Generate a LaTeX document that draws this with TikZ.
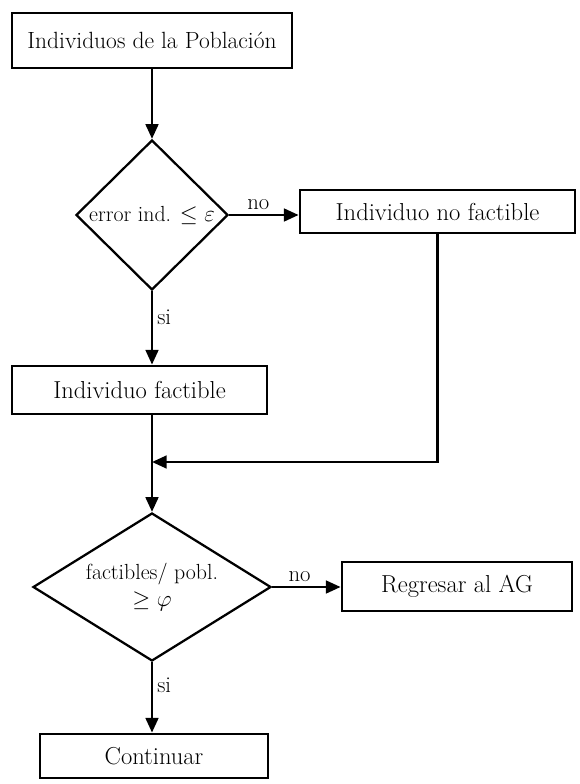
\documentclass[tikz,border=0pt]{standalone}
\usepackage{fontspec}
\usetikzlibrary{shapes.geometric,arrows.meta}
\begin{document}
\begin{tikzpicture}[x=0.75pt,y=-0.75pt,
  box/.style={draw,line width=2.1pt,inner sep=0pt,font=\fontsize{18.4}{21}\selectfont},
  decision/.style={draw,shape=diamond,line width=1.7pt,inner sep=0pt,align=center,
    font=\fontsize{16.4}{19}\selectfont},
  flow/.style={line width=1.9pt,-{Triangle[length=11pt,width=9.5pt]}},
  plain/.style={line width=1.9pt},
  lbl/.style={font=\fontsize{17}{18}\selectfont,inner sep=3pt}]
\useasboundingbox[fill=white] (0,0) rectangle (580,784);

% process boxes
\node[box,minimum width=210pt,minimum height=41.25pt,font=\fontsize{17.6}{21}\selectfont] (pob) at (152,40.5) {Individuos de la Población};
\node[box,minimum width=206.25pt,minimum height=32.25pt] (nofac) at (437.5,211.5) {Individuo no factible};
\node[box,minimum width=191.25pt,minimum height=36pt] (fac) at (139.5,390) {Individuo factible};
\node[box,minimum width=172.5pt,minimum height=36.75pt] (ag) at (457,586.5) {Regresar al AG};
\node[box,minimum width=171pt,minimum height=33pt] (cont) at (154,756) {Continuar};

% decisions
\node[decision,aspect=1,minimum width=114pt,minimum height=112.5pt] (err) at (152,215)
  {error ind. $\leq \varepsilon$};
\node[decision,aspect=1.6,minimum width=178.5pt,minimum height=111pt] (rat) at (152,587)
  {factibles/ pobl.\\[1pt] $\geq \varphi$};

% merge point of the two branches
\coordinate (J) at (152,462);

% connectors
\draw[flow] (pob.south -| err.north) -- (err.north);
\draw[flow] (err.east) -- node[lbl,above,pos=0.42] {no} (err.east -| nofac.west);
\draw[flow] (err.south) -- node[lbl,right,pos=0.36] {si} (err.south |- fac.north);
\draw[flow] (nofac.south) |- (J);
\draw[plain] (J |- fac.south) -- (J);
\draw[flow] (J) -- (rat.north);
\draw[flow] (rat.east) -- node[lbl,above,pos=0.4] {no} (rat.east -| ag.west);
\draw[flow] (rat.south) -- node[lbl,right,pos=0.33] {si} (rat.south |- cont.north);
\end{tikzpicture}
\end{document}
